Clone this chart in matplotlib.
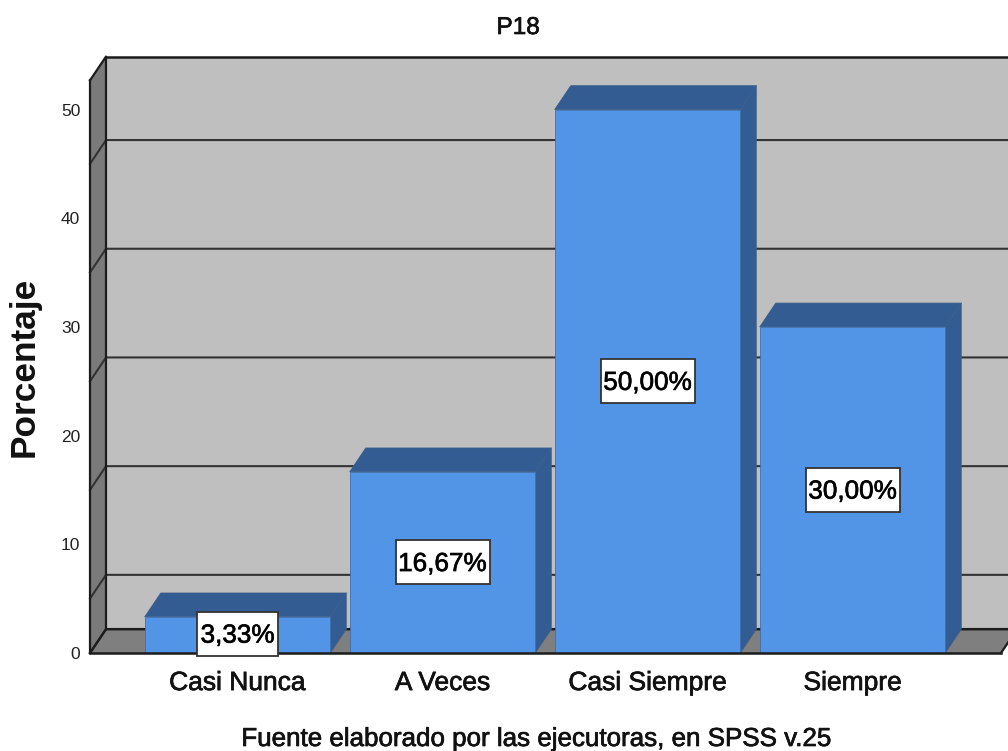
import matplotlib
matplotlib.use("Agg")
import matplotlib.pyplot as plt
import matplotlib.patheffects as pe
from matplotlib.patches import Polygon, Rectangle

plt.rcParams['font.family'] = ['Liberation Sans', 'DejaVu Sans']

categorias = ['Casi Nunca', 'A Veces', 'Casi Siempre', 'Siempre']
porcentajes = [3.33, 16.67, 50.00, 30.00]
etiquetas = ['3,33%', '16,67%', '50,00%', '30,00%']
yticks = [0, 10, 20, 30, 40, 50]
rejilla = [5, 15, 25, 35, 45]

W, H = 1008, 751
PX_X = 205.0      # pixels between categories
PX_Y = 10.87      # pixels per percent
X0, Y0 = 237.5, 653.0
# 3d offset of the back wall, in data units
dx = 16 / PX_X
dy = 23.8 / PX_Y
ancho = 185.5 / PX_X
ytop = 52.68
xl = (90 - X0) / PX_X
xr = (1001 - X0) / PX_X

fig = plt.figure(figsize=(W / 100, H / 100), dpi=100)
ax = fig.add_axes([0, 0, 1, 1])
ax.set_xlim(-X0 / PX_X, (W - X0) / PX_X)
ax.set_ylim((Y0 - H) / PX_Y, Y0 / PX_Y)
ax.patch.set_visible(False)

grueso = [pe.withStroke(linewidth=0.5, foreground='#111111')]

def poly(pts, fc, ec='none', lw=0, z=1):
    ax.add_patch(Polygon(pts, closed=True, fc=fc, ec=ec, lw=lw, zorder=z, joinstyle='round'))

linea = '#1c1c1c'
# back wall, side wall, floor
poly([(xl + dx, dy), (xr + dx, dy), (xr + dx, ytop + dy), (xl + dx, ytop + dy)], '#bfbfbf')
poly([(xl, 0), (xl + dx, dy), (xl + dx, ytop + dy), (xl, ytop)], '#7a7a7a')
poly([(xl, 0), (xr, 0), (xr + dx, dy), (xl + dx, dy)], '#7f7f7f')

for g in rejilla:
    ax.plot([xl, xl + dx, xr + dx], [g, g + dy, g + dy], color='#333333', lw=1.5, zorder=2)
ax.plot([xl, xl + dx, xl + dx], [ytop, ytop + dy, dy], color=linea, lw=1.6, zorder=2)
ax.plot([xl, xl + dx, xr + dx], [0, dy, dy], color=linea, lw=1.8, zorder=2)
ax.plot([xl + dx, xr + dx], [ytop + dy, ytop + dy], color=linea, lw=1.8, zorder=2)
ax.plot([xl, xl], [0, ytop], color=linea, lw=1.6, zorder=2)
ax.plot([xr, xr + dx], [0, dy], color=linea, lw=1.6, zorder=2)

# bars
for i, v in enumerate(porcentajes):
    a, b = i - ancho / 2, i + ancho / 2
    z = 3 + i
    poly([(a, v), (b, v), (b + dx, v + dy), (a + dx, v + dy)], '#325c92', '#3d5f8c', 0.6, z)
    poly([(b, 0), (b, v), (b + dx, v + dy), (b + dx, dy)], '#325c92', '#3d5f8c', 0.6, z)
    ax.bar(i, v, width=ancho, color='#5294e6', edgecolor='#3f70ad', lw=0.6, zorder=z)

ax.plot([xl, xr], [0, 0], color=linea, lw=1.8, zorder=8)

# value labels, box size
for i, v in enumerate(porcentajes):
    yl = v / 2 if i > 0 else 1.75
    bw = (81 if i == 0 else 94) / PX_X
    bh = 44 / PX_Y
    ax.add_patch(Rectangle((i - bw / 2, yl - bh / 2), bw, bh, fc='white', ec='#333333', lw=1.3, zorder=9))
    ax.text(i, yl - 0.15, etiquetas[i], ha='center', va='center', fontsize=18.8, color='black', zorder=10,
            path_effects=grueso)

# axes
for lado in ['top', 'right', 'left', 'bottom']:
    ax.spines[lado].set_visible(False)
ax.spines['left'].set_position(('data', xl))
ax.spines['bottom'].set_position(('data', 0))
ax.set_yticks(yticks)
ax.set_yticklabels([str(t) for t in yticks], fontsize=12.5, color='#222222')
ax.tick_params(axis='y', length=0, pad=7)
ax.set_xticks(range(len(categorias)))
ax.set_xticklabels(categorias, fontsize=19, color='#111111', path_effects=grueso)
ax.tick_params(axis='x', length=0, pad=13)

fig.text(518 / W, 1 - 28 / H, 'P18', ha='center', va='center', fontsize=17.5, color='#111111',
         path_effects=grueso)
fig.text(24 / W, 1 - 367 / H, 'Porcentaje', rotation=90, ha='center', va='center',
         fontsize=25.4, fontweight='bold', color='#111111')
fig.text(537 / W, 1 - 739 / H, 'Fuente elaborado por las ejecutoras, en SPSS v.25', ha='center', va='center',
         fontsize=18.7, color='#111111', path_effects=grueso)

fig.savefig('out.png', dpi=100, facecolor='white')
